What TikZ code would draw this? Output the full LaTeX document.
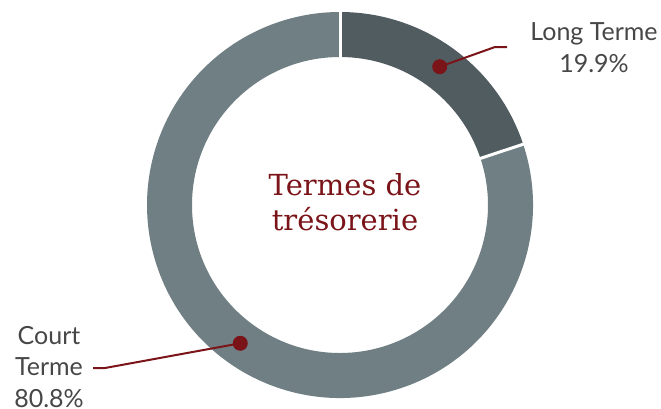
\documentclass[tikz,border=0pt]{standalone}
\usepackage{fontspec}
\setmainfont{DejaVu Serif}
\newfontfamily\labelfont{Lato}
\definecolor{segdark}{HTML}{515C60}
\definecolor{seglight}{HTML}{6F7F83}
\definecolor{accent}{HTML}{7A1419}
\definecolor{labelgrey}{HTML}{474747}
\tikzset{
  dotstyle/.style={circle, fill=accent, inner sep=0pt, minimum size=15pt},
  leader/.style={draw=accent, line width=2pt},
  labelstyle/.style={font=\labelfont\fontsize{25}{31.5}\selectfont, text=labelgrey, align=center, inner sep=0pt},
  titlestyle/.style={font=\fontsize{29}{35}\selectfont, text=accent, align=center, inner sep=0pt},
  gapline/.style={draw=white, line width=3pt}
}
\begin{document}
\begin{tikzpicture}[x=1pt,y=-1pt]
\useasboundingbox (0,0) rectangle (661,408);
\begin{scope}[shift={(340,205)}, y=1pt]
  \fill[segdark] (90:193) arc[start angle=90, end angle=18.36, radius=193]
    -- (18.36:148) arc[start angle=18.36, end angle=90, radius=148] -- cycle;
  \fill[seglight] (18.36:193) arc[start angle=18.36, end angle=-270, radius=193]
    -- (-270:148) arc[start angle=-270, end angle=18.36, radius=148] -- cycle;
  \draw[gapline] (90:145) -- (90:196);
  \draw[gapline] (18.36:145) -- (18.36:196);
  \node[dotstyle] (dotlong) at (54.2:170.5) {};
  \node[dotstyle] (dotcourt) at (234.2:170.5) {};
\end{scope}
\node[titlestyle, anchor=base] (title1) at (345,195) {Termes de};
\node[titlestyle, anchor=base] (title2) at (345,230) {trésorerie};
\node[labelstyle, anchor=base] (lablong) at (594,72) {Long Terme\\19.9\%};
\node[labelstyle, anchor=base] (labcourt) at (49,407) {Court\\Terme\\80.8\%};
\coordinate (elbowlong) at (495,47);
\coordinate (endlong) at (507,47);
\coordinate (elbowcourt) at (105,368);
\coordinate (endcourt) at (93,368);
\draw[leader] (dotlong.center) -- (elbowlong) -- (endlong);
\draw[leader] (dotcourt.center) -- (elbowcourt) -- (endcourt);
\end{tikzpicture}
\end{document}
